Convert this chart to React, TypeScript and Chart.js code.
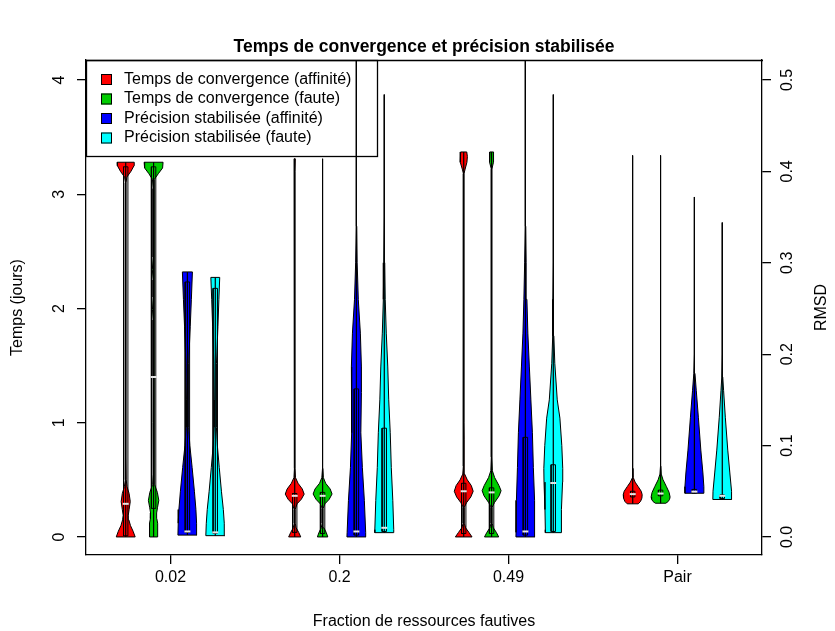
import React, { useEffect, useRef } from 'react';
import { Chart, registerables } from 'chart.js';

Chart.register(...registerables);

const FONT = '"Liberation Sans", Arial, Helvetica, sans-serif';

// ---------- data ----------
const categories = ['0.02', '0.2', '0.49', 'Pair'];
const seriesNames = [
  'Temps de convergence (affinité)',
  'Temps de convergence (faute)',
  'Précision stabilisée (affinité)',
  'Précision stabilisée (faute)',
];
const seriesColors = ['#FF0000', '#00CD00', '#0000FF', '#00FFFF'];
const seriesAxis = ['y', 'y', 'y2', 'y2'];
const seriesOffset = [-0.265, -0.1, 0.1, 0.265];

const tempsTicks = [0, 1, 2, 3, 4];
const rmsdTicks = [0, 0.1, 0.2, 0.3, 0.4, 0.5];
const rmsdTickLabels = ['0.0', '0.1', '0.2', '0.3', '0.4', '0.5'];

// density profiles: [value, relative half-width], bottom to top
const densiteTempsAffinite = [
  [[0, 1.0], [0.05, 0.78], [0.1, 0.5], [0.15, 0.33], [0.19, 0.27], [0.24, 0.36], [0.31, 0.48], [0.38, 0.36], [0.44, 0.14], [0.5, 0.05], [0.7, 0.03], [3.1, 0.03], [3.15, 0.12], [3.2, 0.55], [3.25, 0.88], [3.28, 0.9]],
  [[0, 0.64], [0.04, 0.42], [0.08, 0.15], [0.12, 0.05], [0.24, 0.05], [0.29, 0.25], [0.33, 0.7], [0.375, 1.0], [0.42, 0.8], [0.47, 0.35], [0.52, 0.08], [0.6, 0.03], [3.2, 0.03], [3.31, 0.06]],
  [[0, 0.88], [0.04, 0.55], [0.08, 0.2], [0.12, 0.06], [0.26, 0.06], [0.3, 0.3], [0.35, 0.75], [0.4, 1.0], [0.45, 0.8], [0.5, 0.38], [0.55, 0.1], [0.62, 0.04], [0.85, 0.05], [1.0, 0.03], [3.18, 0.03], [3.22, 0.15], [3.28, 0.34], [3.33, 0.39], [3.37, 0.32]],
  [[0.29, 0.58], [0.31, 0.82], [0.34, 0.97], [0.37, 1.0], [0.4, 0.9], [0.44, 0.58], [0.48, 0.25], [0.52, 0.06], [0.6, 0.03], [3.34, 0.02]],
];
const densiteTempsFaute = [
  [[0, 0.43], [0.12, 0.43], [0.16, 0.34], [0.21, 0.32], [0.26, 0.42], [0.32, 0.55], [0.39, 0.4], [0.46, 0.1], [0.55, 0.06], [1.0, 0.07], [1.4, 0.06], [1.9, 0.06], [1.99, 0.12], [2.1, 0.06], [2.25, 0.06], [2.34, 0.13], [2.45, 0.06], [3.05, 0.06], [3.13, 0.12], [3.18, 0.5], [3.23, 0.95], [3.28, 1.0]],
  [[0, 0.55], [0.04, 0.38], [0.08, 0.14], [0.12, 0.05], [0.25, 0.05], [0.29, 0.25], [0.33, 0.7], [0.376, 1.0], [0.42, 0.8], [0.47, 0.32], [0.52, 0.08], [0.6, 0.03], [3.31, 0.02]],
  [[0, 0.75], [0.04, 0.5], [0.08, 0.18], [0.12, 0.06], [0.26, 0.06], [0.3, 0.3], [0.36, 0.8], [0.405, 1.0], [0.45, 0.78], [0.52, 0.32], [0.58, 0.08], [0.7, 0.03], [3.22, 0.03], [3.28, 0.2], [3.33, 0.23], [3.37, 0.18]],
  [[0.295, 0.55], [0.31, 0.8], [0.33, 0.95], [0.35, 1.0], [0.39, 0.9], [0.44, 0.62], [0.5, 0.26], [0.55, 0.07], [0.62, 0.03], [3.34, 0.02]],
];
const densitePrecisionAffinite = [
  [[0.002, 1.0], [0.015, 0.97], [0.03, 0.9], [0.05, 0.74], [0.076, 0.5], [0.1, 0.26], [0.12, 0.13], [0.15, 0.1], [0.19, 0.16], [0.23, 0.3], [0.26, 0.42], [0.29, 0.53]],
  [[0, 1.0], [0.005, 0.98], [0.04, 0.84], [0.076, 0.63], [0.114, 0.47], [0.158, 0.53], [0.186, 0.53], [0.223, 0.42], [0.26, 0.2], [0.3, 0.08], [0.34, 0.04], [0.4, 0.03], [0.56, 0.02]],
  [[0, 1.0], [0.005, 0.99], [0.04, 0.95], [0.076, 0.84], [0.114, 0.74], [0.15, 0.58], [0.186, 0.42], [0.223, 0.26], [0.26, 0.16], [0.3, 0.08], [0.34, 0.04], [0.4, 0.03], [0.56, 0.02]],
  [[0.0478, 1.0], [0.055, 1.0], [0.07, 0.9], [0.095, 0.68], [0.131, 0.42], [0.16, 0.2], [0.179, 0.06], [0.2, 0.03], [0.372, 0.02]],
];
const densitePrecisionFaute = [
  [[0.0014, 1.0], [0.015, 0.95], [0.03, 0.85], [0.05, 0.65], [0.076, 0.42], [0.1, 0.22], [0.12, 0.12], [0.15, 0.1], [0.19, 0.15], [0.23, 0.28], [0.26, 0.38], [0.284, 0.47]],
  [[0.0047, 1.0], [0.008, 1.0], [0.04, 0.9], [0.076, 0.74], [0.114, 0.63], [0.15, 0.47], [0.186, 0.37], [0.223, 0.21], [0.26, 0.1], [0.3, 0.05], [0.35, 0.03], [0.484, 0.02]],
  [[0.0047, 0.84], [0.008, 0.84], [0.03, 0.88], [0.06, 0.98], [0.075, 1.0], [0.1, 0.9], [0.13, 0.7], [0.15, 0.42], [0.19, 0.16], [0.22, 0.06], [0.26, 0.04], [0.3, 0.03], [0.484, 0.02]],
  [[0.041, 1.0], [0.05, 0.98], [0.07, 0.8], [0.095, 0.58], [0.131, 0.32], [0.16, 0.14], [0.175, 0.05], [0.2, 0.03], [0.344, 0.02]],
];

// quartiles per series (rows) and category (columns)
const premierQuartile = [
  [0.01, 0.04, 0.03, 0.35],
  [0.25, 0.03, 0.03, 0.36],
  [0.005, 0.002, 0.002, 0.048],
  [0.004, 0.006, 0.006, 0.042],
];
const mediane = [
  [0.29, 0.36, 0.4, 0.375],
  [1.4, 0.36, 0.39, 0.38],
  [0.006, 0.006, 0.006, 0.0496],
  [0.005, 0.01, 0.059, 0.045],
];
const troisiemeQuartile = [
  [3.24, 0.38, 0.47, 0.4],
  [3.24, 0.39, 0.43, 0.41],
  [0.279, 0.162, 0.109, 0.052],
  [0.272, 0.119, 0.079, 0.046],
];

const densities = [densiteTempsAffinite, densiteTempsFaute, densitePrecisionAffinite, densitePrecisionFaute];

// ---------- styling constants ----------
const VIOLIN_HALF = 0.056;
const BOX_HALF = 0.013;
const LINE_W = 1.3;

function violinPoints(cx: number, prof: number[][]) {
  const right = prof.map(([v, w]) => ({ x: cx + w * VIOLIN_HALF, y: v }));
  const left = prof.slice().reverse().map(([v, w]) => ({ x: cx - w * VIOLIN_HALF, y: v }));
  return [...right, ...left, right[0]];
}

function buildDatasets() {
  const list: any[] = [];
  for (let s = 0; s < densities.length; s++) {
    for (let g = 0; g < categories.length; g++) {
      const cx = g + 1 + seriesOffset[s];
      const prof = densities[s][g];
      const yAxisID = seriesAxis[s];
      list.push({
        label: seriesNames[s],
        data: violinPoints(cx, prof),
        showLine: true,
        fill: 'shape',
        backgroundColor: seriesColors[s],
        borderColor: '#000',
        borderWidth: 1,
        pointRadius: 0,
        tension: 0,
        yAxisID,
      });
      list.push({
        data: [{ x: cx, y: prof[0][0] }, { x: cx, y: prof[prof.length - 1][0] }],
        showLine: true,
        fill: false,
        borderColor: '#000',
        borderWidth: 1.2,
        pointRadius: 0,
        yAxisID,
      });
      const a = premierQuartile[s][g];
      const b = troisiemeQuartile[s][g];
      list.push({
        data: [
          { x: cx - BOX_HALF, y: a }, { x: cx + BOX_HALF, y: a },
          { x: cx + BOX_HALF, y: b }, { x: cx - BOX_HALF, y: b },
          { x: cx - BOX_HALF, y: a },
        ],
        showLine: true,
        fill: false,
        borderColor: '#000',
        borderWidth: 1,
        pointRadius: 0,
        yAxisID,
      });
      list.push({
        data: [{ x: cx, y: mediane[s][g] }],
        showLine: false,
        pointStyle: 'line',
        pointRadius: 3,
        pointBorderColor: '#E6E6E6',
        pointBackgroundColor: '#E6E6E6',
        pointBorderWidth: 2,
        yAxisID,
      });
    }
    if (s === 1) list[list.length - 1].legendAfter = true;
  }
  list.forEach((d, i) => { d.order = list.length - i; });
  return list;
}

function drawLegend(chart: any) {
  const ctx = chart.ctx;
  const a = chart.chartArea;
  const x0 = a.left;
  const y0 = a.top;
  ctx.save();
  ctx.fillStyle = '#fff';
  ctx.fillRect(x0, y0, 291, 96);
  ctx.strokeStyle = '#000';
  ctx.lineWidth = LINE_W;
  ctx.strokeRect(x0 + 0.5, y0 + 0.5, 291, 96);
  ctx.font = `16px ${FONT}`;
  ctx.textBaseline = 'middle';
  ctx.textAlign = 'left';
  seriesNames.forEach((name, i) => {
    const cy = y0 + 19.5 + i * 19.5;
    ctx.fillStyle = seriesColors[i];
    ctx.fillRect(x0 + 15, cy - 5.5, 11, 11);
    ctx.lineWidth = 1;
    ctx.strokeRect(x0 + 15.5, cy - 5, 10, 10);
    ctx.fillStyle = '#000';
    ctx.fillText(name, x0 + 38, cy);
  });
  ctx.restore();
}

const decorPlugin = {
  id: 'decor',
  beforeDraw(chart: any) {
    const ctx = chart.ctx;
    ctx.save();
    ctx.fillStyle = '#fff';
    ctx.fillRect(0, 0, chart.width, chart.height);
    ctx.restore();
  },
  afterDatasetDraw(chart: any, args: any) {
    const ds: any = chart.data.datasets[args.index];
    if (ds && ds.legendAfter) drawLegend(chart);
  },
  afterDraw(chart: any) {
    const ctx = chart.ctx;
    const a = chart.chartArea;
    ctx.save();
    // top edge of the box
    ctx.strokeStyle = '#000';
    ctx.lineWidth = LINE_W;
    ctx.beginPath();
    ctx.moveTo(a.left, a.top + 0.5);
    ctx.lineTo(a.right + 1, a.top + 0.5);
    ctx.stroke();
    // title
    ctx.fillStyle = '#000';
    ctx.textAlign = 'center';
    ctx.textBaseline = 'middle';
    ctx.font = `bold 17.5px ${FONT}`;
    ctx.fillText('Temps de convergence et précision stabilisée', (a.left + a.right) / 2, 47);
    // rotated y tick labels and titles
    ctx.font = `16px ${FONT}`;
    const yS = chart.scales.y;
    const y2S = chart.scales.y2;
    const rot = (txt: string, x: number, y: number) => {
      ctx.save();
      ctx.translate(x, y);
      ctx.rotate(-Math.PI / 2);
      ctx.fillText(txt, 0, 0);
      ctx.restore();
    };
    tempsTicks.forEach((t) => rot(String(t), 60, yS.getPixelForValue(t)));
    rmsdTicks.forEach((t, i) => rot(rmsdTickLabels[i], 788, y2S.getPixelForValue(t)));
    rot('Temps (jours)', 18, (a.top + a.bottom) / 2);
    rot('RMSD', 822, (a.top + a.bottom) / 2);
    ctx.restore();
  },
};

const Y_MIN = -0.158;
const Y_MAX = 4.175;
const RATIO = 8;

export default function App() {
  const ref = useRef<HTMLCanvasElement>(null);
  useEffect(() => {
    const canvas = ref.current;
    if (!canvas) return;
    Chart.defaults.font.family = FONT;
    Chart.defaults.font.size = 16;
    Chart.defaults.color = '#000';
    const gridOpts = { display: true, drawOnChartArea: false, drawTicks: true, tickLength: 9, color: '#000', lineWidth: LINE_W };
    const borderOpts = { display: true, color: '#000', width: LINE_W };
    const chart = new Chart(canvas, {
      type: 'scatter',
      data: { datasets: buildDatasets() },
      options: {
        animation: false,
        responsive: false,
        devicePixelRatio: 1,
        events: [],
        layout: { padding: { top: 60, left: 0, right: 0, bottom: 0 } },
        plugins: { legend: { display: false }, tooltip: { enabled: false }, title: { display: false } },
        scales: {
          x: {
            type: 'linear',
            position: 'bottom',
            min: 0.5,
            max: 4.5,
            bounds: 'data',
            afterFit: (s: any) => { s.height = 76; },
            afterBuildTicks: (s: any) => { s.ticks = categories.map((_, i) => ({ value: i + 1 })); },
            ticks: {
              autoSkip: false,
              maxRotation: 0,
              padding: 4,
              color: '#000',
              font: { size: 16 },
              callback: (v: any) => categories[Math.round(Number(v)) - 1] ?? '',
            },
            grid: gridOpts,
            border: borderOpts,
            title: { display: true, text: 'Fraction de ressources fautives', color: '#000', font: { size: 16 }, padding: { top: 0, bottom: 0 } },
          },
          y: {
            type: 'linear',
            position: 'left',
            min: Y_MIN,
            max: Y_MAX,
            bounds: 'data',
            afterFit: (s: any) => { s.width = 86; },
            afterBuildTicks: (s: any) => { s.ticks = tempsTicks.map((v) => ({ value: v })); },
            ticks: { display: false },
            grid: gridOpts,
            border: borderOpts,
          },
          y2: {
            type: 'linear',
            position: 'right',
            min: Y_MIN / RATIO,
            max: Y_MAX / RATIO,
            bounds: 'data',
            afterFit: (s: any) => { s.width = 73; },
            afterBuildTicks: (s: any) => { s.ticks = rmsdTicks.map((v) => ({ value: v })); },
            ticks: { display: false },
            grid: gridOpts,
            border: borderOpts,
          },
        },
      } as any,
      plugins: [decorPlugin],
    });
    return () => chart.destroy();
  }, []);
  return (
    <div style={{ position: 'fixed', left: 0, top: 0, width: 835, height: 631, background: '#fff' }}>
      <canvas ref={ref} width={835} height={631} style={{ display: 'block' }} />
    </div>
  );
}
